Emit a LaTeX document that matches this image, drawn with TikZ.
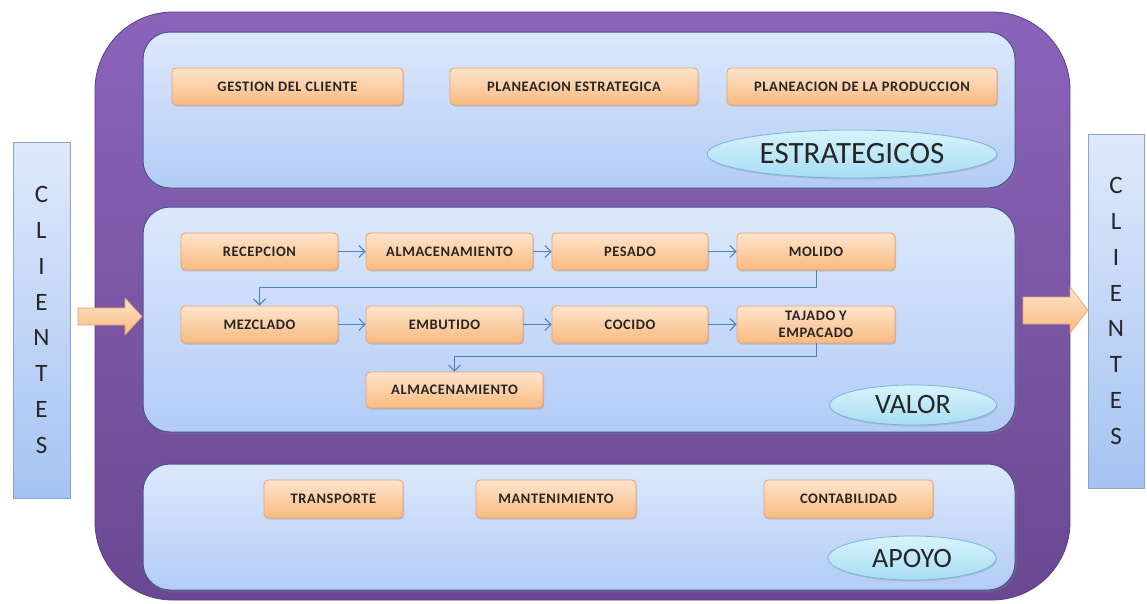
\documentclass[tikz,border=0pt]{standalone}
\usepackage{fontspec}
\setmainfont{Carlito}
\newfontfamily\boxfont[LetterSpace=4]{Carlito}
\usetikzlibrary{shapes.geometric,arrows.meta,shadows}

\definecolor{purpleTop}{HTML}{8B64BA}
\definecolor{purpleBot}{HTML}{6A4891}
\definecolor{purpleEdge}{HTML}{5E3F84}
\definecolor{panelTop}{HTML}{DDE8FC}
\definecolor{panelBot}{HTML}{B3CCF6}
\definecolor{panelEdge}{HTML}{44568E}
\definecolor{boxTop}{HTML}{FEE4CC}
\definecolor{boxBot}{HTML}{F9BA80}
\definecolor{boxEdge}{HTML}{E6A36C}
\definecolor{ellTop}{HTML}{D8F3FC}
\definecolor{ellBot}{HTML}{A6DDF3}
\definecolor{ellEdge}{HTML}{7DB3D6}
\definecolor{cliTop}{HTML}{DFE9FB}
\definecolor{cliBot}{HTML}{A5C3F2}
\definecolor{cliEdge}{HTML}{8DA4C8}
\definecolor{flowBlue}{HTML}{4F81BD}
\definecolor{txt}{HTML}{262626}

\tikzset{
  outerbox/.style={rounded corners=78pt, draw=purpleEdge, line width=0.8pt,
    top color=purpleTop, bottom color=purpleBot, inner sep=0pt},
  panel/.style={rounded corners=27pt, draw=panelEdge, line width=1pt,
    top color=panelTop, bottom color=panelBot, inner sep=0pt,
    drop shadow={shadow xshift=1.5pt, shadow yshift=-2pt, opacity=0.35}},
  procbox/.style={rounded corners=4pt, draw=boxEdge, line width=0.8pt,
    top color=boxTop, bottom color=boxBot, inner sep=0pt, text=txt,
    font=\boxfont\fontsize{14.5}{17.5}\selectfont\bfseries, align=center,
    drop shadow={shadow xshift=1pt, shadow yshift=-1.5pt, opacity=0.3}},
  tag/.style={ellipse, draw=ellEdge, line width=0.8pt, inner sep=0pt,
    top color=ellTop, bottom color=ellBot, text=txt,
    drop shadow={shadow xshift=1pt, shadow yshift=-1.5pt, opacity=0.25}},
  clibox/.style={draw=cliEdge, line width=0.8pt, top color=cliTop,
    bottom color=cliBot, inner sep=0pt, text=txt, align=center,
    font=\fontsize{25}{35.8}\selectfont},
  fatarrow/.style={draw=boxEdge, line width=0.6pt, top color=boxTop,
    bottom color=boxBot},
  flow/.style={draw=flowBlue, line width=1pt,
    -{Straight Barb[length=6pt,width=12pt,line width=1pt]}},
}

\begin{document}
\begin{tikzpicture}[x=1pt,y=-1pt]
  \useasboundingbox[fill=white] (0,0) rectangle (1147,603);

  % main purple frame
  \node[outerbox, minimum width=975pt, minimum height=588pt] (outer) at (582.5,306) {};

  % the three process bands
  \node[panel, minimum width=872pt, minimum height=156pt] (ptop) at (579,110) {};
  \node[panel, minimum width=872pt, minimum height=225pt] (pmid) at (579,319.5) {};
  \node[panel, minimum width=872pt, minimum height=126pt] (pbot) at (579,527) {};

  % strategic processes
  \node[procbox, minimum width=231pt, minimum height=37pt] (gest)   at (287.5,86.5) {GESTION DEL CLIENTE};
  \node[procbox, minimum width=248pt, minimum height=37pt] (plest)  at (574,86.5)   {PLANEACION ESTRATEGICA};
  \node[procbox, minimum width=270pt, minimum height=37pt] (plprod) at (862,86.5)   {PLANEACION DE LA PRODUCCION};
  \node[tag, minimum width=290pt, minimum height=48pt, font=\fontsize{31}{31}\selectfont] (estr) at (852,154) {ESTRATEGICOS};

  % value chain
  \node[procbox, minimum width=157pt, minimum height=37pt] (recep)  at (259.5,251.5) {RECEPCION};
  \node[procbox, minimum width=167pt, minimum height=37pt] (alm1)   at (449.5,251.5) {ALMACENAMIENTO};
  \node[procbox, minimum width=156pt, minimum height=37pt] (pesado) at (630,251.5)   {PESADO};
  \node[procbox, minimum width=158pt, minimum height=37pt] (molido) at (816,251.5)   {MOLIDO};
  \node[procbox, minimum width=157pt, minimum height=37pt] (mezcl)  at (259.5,324.5) {MEZCLADO};
  \node[procbox, minimum width=157pt, minimum height=37pt] (embut)  at (444.5,324.5) {EMBUTIDO};
  \node[procbox, minimum width=156pt, minimum height=37pt] (cocido) at (630,324.5)   {COCIDO};
  \node[procbox, minimum width=158pt, minimum height=37pt] (tajado) at (816,324.5)   {TAJADO Y\\EMPACADO};
  \node[procbox, minimum width=177pt, minimum height=36pt] (alm2)   at (454.5,390)   {ALMACENAMIENTO};
  \node[tag, minimum width=167pt, minimum height=40pt, font=\fontsize{28}{28}\selectfont] (valor) at (913,405) {VALOR};

  \draw[flow] (recep) -- (alm1);
  \draw[flow] (alm1) -- (pesado);
  \draw[flow] (pesado) -- (molido);
  \draw[flow] (molido.south) -- ++(0,17) -| (mezcl.north);
  \draw[flow] (mezcl) -- (embut);
  \draw[flow] (embut) -- (cocido);
  \draw[flow] (cocido) -- (tajado);
  \draw[flow] (tajado.south) -- ++(0,13) -| (alm2.north);

  % support processes
  \node[procbox, minimum width=139pt, minimum height=38pt] (transp) at (333.5,499) {TRANSPORTE};
  \node[procbox, minimum width=160pt, minimum height=38pt] (mant)   at (556,499)   {MANTENIMIENTO};
  \node[procbox, minimum width=169pt, minimum height=38pt] (contab) at (848.5,499) {CONTABILIDAD};
  \node[tag, minimum width=168pt, minimum height=44pt, font=\fontsize{28}{28}\selectfont] (apoyo) at (912,558) {APOYO};

  % customers on both sides
  \node[clibox, minimum width=57pt, minimum height=356pt] (cliL) at (41.5,320) {C\\L\\I\\E\\N\\T\\E\\S};
  \node[clibox, minimum width=56pt, minimum height=354pt] (cliR) at (1116,311) {C\\L\\I\\E\\N\\T\\E\\S};

  % input and output arrows
  \draw[fatarrow] (78,308) -- (125,308) -- (125,298) -- (142,316.5)
    -- (125,335) -- (125,325) -- (78,325) -- cycle;
  \draw[fatarrow] (1023,297) -- (1070,297) -- (1070,287) -- (1088,310)
    -- (1070,333) -- (1070,324) -- (1023,324) -- cycle;
\end{tikzpicture}
\end{document}
